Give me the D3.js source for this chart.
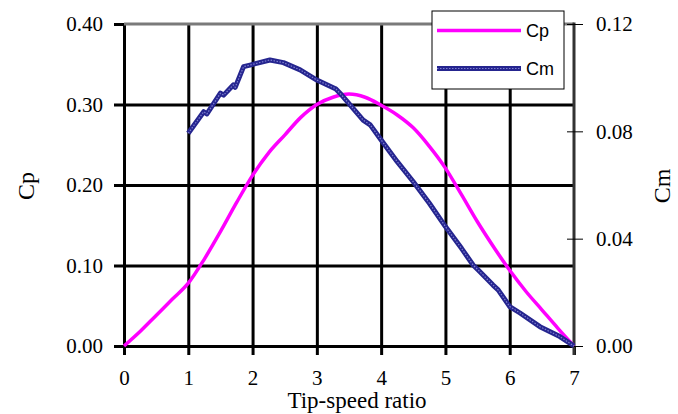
<!DOCTYPE html>
<html>
<head>
<meta charset="utf-8">
<script src="https://cdn.jsdelivr.net/npm/d3@7"></script>
<style>
  body { margin: 0; background: #fff; }
  svg { display: block; }
</style>
</head>
<body>
<svg width="678" height="414"></svg>
<script>
// data
const cpX = [0, 0.25, 0.5, 0.75, 1, 1.25, 1.5, 1.75, 2, 2.25, 2.5, 2.75, 3, 3.25, 3.5, 3.75, 4, 4.25, 4.5, 4.75, 5, 5.25, 5.5, 5.75, 6, 6.25, 6.5, 6.75, 7];
const cpY = [0, 0.018, 0.038, 0.058, 0.078, 0.108, 0.142, 0.178, 0.212, 0.240, 0.262, 0.284, 0.300, 0.309, 0.313, 0.309, 0.299, 0.287, 0.271, 0.248, 0.221, 0.188, 0.154, 0.123, 0.094, 0.068, 0.045, 0.022, 0];

const cmX = [1.0, 1.24, 1.29, 1.50, 1.55, 1.70, 1.73, 1.86, 1.96, 2.27, 2.48, 2.74, 3.0, 3.28, 3.30, 3.36, 3.52, 3.72, 3.83, 4.0, 4.25, 4.5, 4.75, 5.0, 5.25, 5.43, 5.51, 5.74, 5.82, 6.0, 6.16, 6.47, 6.78, 7.0];
const cmY = [0.0793, 0.0873, 0.0865, 0.0942, 0.0935, 0.0973, 0.0964, 0.1041, 0.1047, 0.1066, 0.1056, 0.1029, 0.0991, 0.0960, 0.0957, 0.0942, 0.0898, 0.0842, 0.0824, 0.0768, 0.0687, 0.0612, 0.0532, 0.0445, 0.0364, 0.0302, 0.0283, 0.0227, 0.0209, 0.0147, 0.0123, 0.0072, 0.0035, 0.0];

const xTicks = [0, 1, 2, 3, 4, 5, 6, 7];
const cpTicks = [0, 0.1, 0.2, 0.3, 0.4];
const cmTicks = [0, 0.04, 0.08, 0.12];

const svg = d3.select('svg');
const serif = '"Liberation Serif", "Times New Roman", serif';
const sans = '"Liberation Sans", Arial, sans-serif';

const x = d3.scaleLinear().domain([0, 7]).range([124, 574]);
const yL = d3.scaleLinear().domain([0, 0.4]).range([346, 24]);
const yR = d3.scaleLinear().domain([0, 0.12]).range([346, 24]);

// horizontal grid + left ticks
const gy = svg.append('g').attr('transform', 'translate(124,0)')
  .call(d3.axisLeft(yL).tickValues(cpTicks).tickFormat(d3.format('.2f'))
    .tickSizeInner(-450).tickSizeOuter(0).tickPadding(21));
gy.attr('font-family', null).attr('font-size', null);
gy.select('.domain').remove();
gy.selectAll('.tick line').attr('x1', -10).attr('stroke', '#000').attr('stroke-width', 3);
gy.selectAll('.tick').filter(d => d === 0.4).select('line').attr('x2', 0);
gy.selectAll('.tick text').style('font-family', serif).style('font-size', '21px').attr('fill', '#000');

// vertical grid + bottom ticks
const gx = svg.append('g').attr('transform', 'translate(0,346)')
  .call(d3.axisBottom(x).tickValues(xTicks).tickFormat(d3.format('d'))
    .tickSizeInner(-322).tickSizeOuter(0).tickPadding(24));
gx.attr('font-family', null).attr('font-size', null);
gx.select('.domain').remove();
gx.selectAll('.tick line').attr('y1', 9).attr('stroke', '#000').attr('stroke-width', 3);
gx.selectAll('.tick').filter(d => d === 7).select('line').attr('y2', 0);
gx.selectAll('.tick text').style('font-family', serif).style('font-size', '21px').attr('fill', '#000');

// frame top and right
svg.append('line').attr('x1', x(0)).attr('x2', x(7)).attr('y1', yL(0.4)).attr('y2', yL(0.4))
  .attr('stroke', '#7a7a7a').attr('stroke-width', 3);
svg.append('line').attr('x1', x(7)).attr('x2', x(7)).attr('y1', yL(0.4) - 1.5).attr('y2', yL(0) + 9)
  .attr('stroke', '#333').attr('stroke-width', 3);

// right axis
const gr = svg.append('g').attr('transform', 'translate(574,0)')
  .call(d3.axisRight(yR).tickValues(cmTicks).tickFormat(d3.format('.2f'))
    .tickSizeInner(9).tickSizeOuter(0).tickPadding(13));
gr.attr('font-family', null).attr('font-size', null);
gr.select('.domain').remove();
gr.selectAll('.tick line').attr('x1', -7).attr('stroke', '#000').attr('stroke-width', 1);
gr.selectAll('.tick text').style('font-family', serif).style('font-size', '21px').attr('fill', '#000');

// lines
const cpData = cpX.map((d, i) => [d, cpY[i]]);
const cmData = cmX.map((d, i) => [d, cmY[i]]);

const cpLine = d3.line().x(d => x(d[0])).y(d => yL(d[1])).curve(d3.curveMonotoneX);
const cmLine = d3.line().x(d => x(d[0])).y(d => yR(d[1]));

svg.append('path').attr('d', cpLine(cpData)).attr('fill', 'none')
  .attr('stroke', '#ff00ff').attr('stroke-width', 3.5);

svg.append('path').attr('d', cmLine(cmData)).attr('fill', 'none')
  .attr('stroke', '#25258f').attr('stroke-width', 5).attr('stroke-linejoin', 'round');
svg.append('path').attr('d', cmLine(cmData)).attr('fill', 'none')
  .attr('stroke', '#7f7fd0').attr('stroke-width', 1.2).attr('stroke-dasharray', '1.5,1.5');

// axis titles
svg.append('text').attr('x', 357).attr('y', 408).attr('text-anchor', 'middle')
  .style('font-family', serif).style('font-size', '23px').text('Tip-speed ratio');
svg.append('text').attr('transform', 'translate(34,186) rotate(-90)').attr('text-anchor', 'middle')
  .style('font-family', serif).style('font-size', '24px').text('Cp');
svg.append('text').attr('transform', 'translate(670,186) rotate(-90)').attr('text-anchor', 'middle')
  .style('font-family', serif).style('font-size', '24px').text('Cm');

// legend
const lg = svg.append('g');
lg.append('rect').attr('x', 432).attr('y', 11).attr('width', 132).attr('height', 78)
  .attr('fill', '#fff').attr('stroke', '#000').attr('stroke-width', 1);
lg.append('line').attr('x1', 437).attr('x2', 521).attr('y1', 30.5).attr('y2', 30.5)
  .attr('stroke', '#ff00ff').attr('stroke-width', 3.5);
lg.append('line').attr('x1', 437).attr('x2', 521).attr('y1', 68.5).attr('y2', 68.5)
  .attr('stroke', '#25258f').attr('stroke-width', 5);
lg.append('line').attr('x1', 437).attr('x2', 521).attr('y1', 68.5).attr('y2', 68.5)
  .attr('stroke', '#7f7fd0').attr('stroke-width', 1.2).attr('stroke-dasharray', '1.5,1.5');
lg.append('text').attr('x', 526).attr('y', 36.5).style('font-family', sans).style('font-size', '18px').text('Cp');
lg.append('text').attr('x', 526).attr('y', 74.5).style('font-family', sans).style('font-size', '18px').text('Cm');
</script>
</body>
</html>
